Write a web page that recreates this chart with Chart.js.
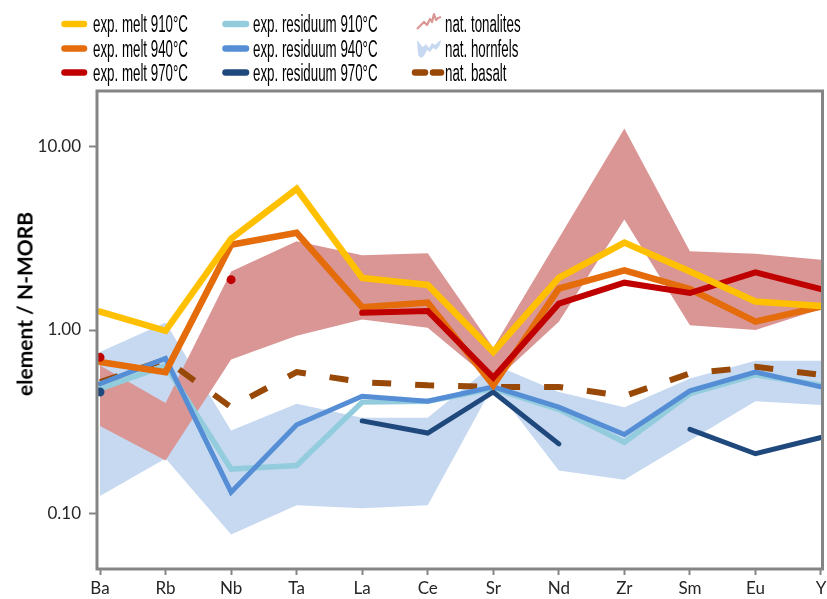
<!DOCTYPE html>
<html><head><meta charset="utf-8">
<script src="https://cdn.jsdelivr.net/npm/chart.js@4/dist/chart.umd.min.js"></script>
<style>
html,body{margin:0;padding:0;background:#fff;}
#wrap{position:relative;width:827px;height:599px;overflow:hidden;background:#fff;}
#c{position:absolute;left:0;top:0;}
#icons{position:absolute;left:0;top:0;}
.lt{position:absolute;font-family:"Liberation Sans",Arial,sans-serif;font-size:23.5px;line-height:24px;height:24px;color:#000;white-space:nowrap;transform:scaleX(0.567);transform-origin:0 50%;}
.ylab{position:absolute;font-family:Lato,"Open Sans",sans-serif;font-weight:bold;font-size:21px;color:#000;white-space:nowrap;left:24px;top:304px;transform:translate(-50%,-50%) rotate(-90deg);}
</style></head>
<body>
<div id="wrap">
<canvas id="c" width="827" height="599"></canvas>
<svg id="icons" width="827" height="90" xmlns="http://www.w3.org/2000/svg">
  <line x1="64.5" y1="24" x2="84" y2="24" stroke="#FFC000" stroke-width="6.5" stroke-linecap="round"/>
  <line x1="64.5" y1="48.5" x2="84" y2="48.5" stroke="#E46C0A" stroke-width="6.5" stroke-linecap="round"/>
  <line x1="64.5" y1="72.5" x2="84" y2="72.5" stroke="#C00000" stroke-width="6.5" stroke-linecap="round"/>
  <line x1="225.5" y1="24" x2="246" y2="24" stroke="#93CDDD" stroke-width="6.5" stroke-linecap="round"/>
  <line x1="225.5" y1="48.5" x2="246" y2="48.5" stroke="#558ED5" stroke-width="6.5" stroke-linecap="round"/>
  <line x1="225.5" y1="72.5" x2="246" y2="72.5" stroke="#1F497D" stroke-width="6.5" stroke-linecap="round"/>
  <polyline points="417,29 421,25 424,22 427,25 430,19 432,22 434,14 436,20 438,18 441,17" fill="none" stroke="#D99694" stroke-width="2.2" stroke-linejoin="round"/>
  <polygon points="417,40 420,44 423,47 426,44 429,48 432,43 435,45 438,42 441,40 440,45 436,50 433,48 430,52 427,50 424,56 421,58 418,55" fill="#C6D9F1"/>
  <line x1="415" y1="72.5" x2="425" y2="72.5" stroke="#984807" stroke-width="6.5" stroke-linecap="round"/>
  <line x1="433" y1="72.5" x2="441" y2="72.5" stroke="#984807" stroke-width="6.5" stroke-linecap="round"/>
</svg>
<div id="legend"></div>
<div class="ylab">element / N-MORB</div>
</div>
<script>
// ---- data ----
const categories = ['Ba','Rb','Nb','Ta','La','Ce','Sr','Nd','Zr','Sm','Eu','Y'];
const yTicks = [0.1, 1, 10];
const yTickLabels = ['0.10', '1.00', '10.00'];

const melt910 = [1.26, 0.99, 3.14, 5.87, 1.92, 1.76, 0.76, 1.92, 2.99, 2.08, 1.43, 1.35];
const melt940 = [0.67, 0.59, 2.91, 3.38, 1.33, 1.41, 0.50, 1.68, 2.11, 1.67, 1.11, 1.34];
const melt970 = [0.71, null, 1.88, null, 1.24, 1.27, 0.55, 1.39, 1.81, 1.59, 2.06, 1.67];
const res910  = [0.48, 0.64, 0.175, 0.183, 0.405, 0.41, 0.48, 0.37, 0.245, 0.45, 0.57, 0.50];
const res940  = [0.51, 0.70, 0.131, 0.305, 0.436, 0.41, 0.49, 0.38, 0.27, 0.466, 0.59, 0.49];
const res970  = [0.46, null, null, null, 0.32, 0.275, 0.46, 0.24, null, 0.288, 0.212, 0.26];
const basalt  = [0.52, 0.69, 0.38, 0.59, 0.52, 0.50, 0.49, 0.49, 0.437, 0.58, 0.63, 0.57];
const tonalitesHigh = [0.64, 0.40, 2.08, 3.04, 2.55, 2.62, 0.80, 3.16, 12.5, 2.68, 2.60, 2.41];
const tonalitesLow  = [0.30, 0.195, 0.69, 0.93, 1.14, 1.03, 0.52, 1.11, 3.99, 1.06, 1.00, 1.30];
const hornfelsHigh  = [0.76, 1.10, 0.284, 0.397, 0.333, 0.333, 0.65, 0.46, 0.38, 0.545, 0.68, 0.68];
const hornfelsLow   = [0.125, 0.20, 0.077, 0.111, 0.107, 0.111, 0.50, 0.172, 0.153, 0.25, 0.41, 0.39];

const legendLabels = ['exp. melt 910°C','exp. melt 940°C','exp. melt 970°C',
  'exp. residuum 910°C','exp. residuum 940°C','exp. residuum 970°C',
  'nat. tonalites','nat. hornfels','nat. basalt'];

// ---- legend text ----
const colX = [93, 253, 445];
const rowY = [24, 48.5, 72.5];
const lg = document.getElementById('legend');
legendLabels.forEach((t, i) => {
  const d = document.createElement('div');
  d.className = 'lt';
  d.textContent = t;
  d.style.left = colX[Math.floor(i / 3)] + 'px';
  d.style.top = (rowY[i % 3] - 12) + 'px';
  lg.appendChild(d);
});

// ---- chart ----
const pts = arr => arr.map((v, i) => ({x: i, y: v}));
function line(label, data, color, width, order, extra) {
  return Object.assign({
    label, data: pts(data), borderColor: color, backgroundColor: color,
    borderWidth: width, pointRadius: 0, pointHoverRadius: 0, pointBorderWidth: 0,
    tension: 0, fill: false, spanGaps: false,
    borderCapStyle: 'round', borderJoinStyle: 'miter', order
  }, extra || {});
}
const dotAt = (arr, idx) => arr.map((v, i) => idx.includes(i) ? 4.5 : 0);

const datasets = [
  line('exp. melt 910°C', melt910, '#FFC000', 6.5, 1),
  line('exp. melt 970°C', melt970, '#C00000', 6, 2, {pointRadius: dotAt(melt970, [0, 2])}),
  line('exp. melt 940°C', melt940, '#E46C0A', 6.5, 3),
  line('exp. residuum 970°C', res970, '#1F497D', 5, 4, {pointRadius: dotAt(res970, [0])}),
  line('exp. residuum 940°C', res940, '#558ED5', 5, 5),
  line('exp. residuum 910°C', res910, '#93CDDD', 5.5, 6),
  line('nat. basalt', basalt, '#984807', 6, 7, {borderDash: [19, 24], borderCapStyle: 'butt'}),
  line('nat. tonalites', tonalitesHigh, 'rgba(0,0,0,0)', 0, 8, {backgroundColor: '#D99694', fill: '+1', borderCapStyle: 'butt'}),
  line('nat. tonalites low', tonalitesLow, 'rgba(0,0,0,0)', 0, 8, {borderCapStyle: 'butt'}),
  line('nat. hornfels', hornfelsHigh, 'rgba(0,0,0,0)', 0, 10, {backgroundColor: '#C6D9F1', fill: '+1', borderCapStyle: 'butt'}),
  line('nat. hornfels low', hornfelsLow, 'rgba(0,0,0,0)', 0, 10, {borderCapStyle: 'butt'})
];

const frame = {
  id: 'frame',
  afterDatasetsDraw(chart) {
    const {ctx, chartArea: a} = chart;
    ctx.save();
    ctx.strokeStyle = '#858585';
    ctx.lineWidth = 3;
    ctx.strokeRect(a.left, a.top, a.right - a.left, a.bottom - a.top);
    ctx.restore();
  }
};

const tickFont = {family: 'Lato, "Open Sans", sans-serif', size: 17};

new Chart(document.getElementById('c'), {
  type: 'line',
  data: {datasets},
  options: {
    responsive: false,
    devicePixelRatio: 1,
    animation: false,
    layout: {padding: {top: 91, right: 4, left: 0, bottom: 0}},
    plugins: {legend: {display: false}, tooltip: {enabled: false}},
    events: [],
    scales: {
      x: {
        type: 'linear', min: -0.046, max: 11.023, bounds: 'data',
        afterBuildTicks: s => { s.ticks = categories.map((c, i) => ({value: i})); },
        ticks: {callback: v => categories[v], font: tickFont, color: '#262626', padding: 3, autoSkip: false, maxRotation: 0},
        grid: {display: true, drawOnChartArea: false, drawTicks: true, tickLength: 6, tickColor: '#858585', tickWidth: 2},
        border: {display: false},
        afterFit: s => { s.height = 30; s.paddingLeft = 0; s.paddingRight = 0; }
      },
      y: {
        type: 'logarithmic', min: 0.05, max: 20, bounds: 'data',
        afterBuildTicks: s => { s.ticks = yTicks.map(v => ({value: v})); },
        ticks: {callback: v => yTickLabels[yTicks.indexOf(v)], font: tickFont, color: '#262626', padding: 8},
        grid: {display: true, drawOnChartArea: false, drawTicks: true, tickLength: 8, tickColor: '#858585', tickWidth: 2},
        border: {display: false},
        afterFit: s => { s.width = 97; }
      }
    }
  },
  plugins: [frame]
});
</script>
</body></html>
